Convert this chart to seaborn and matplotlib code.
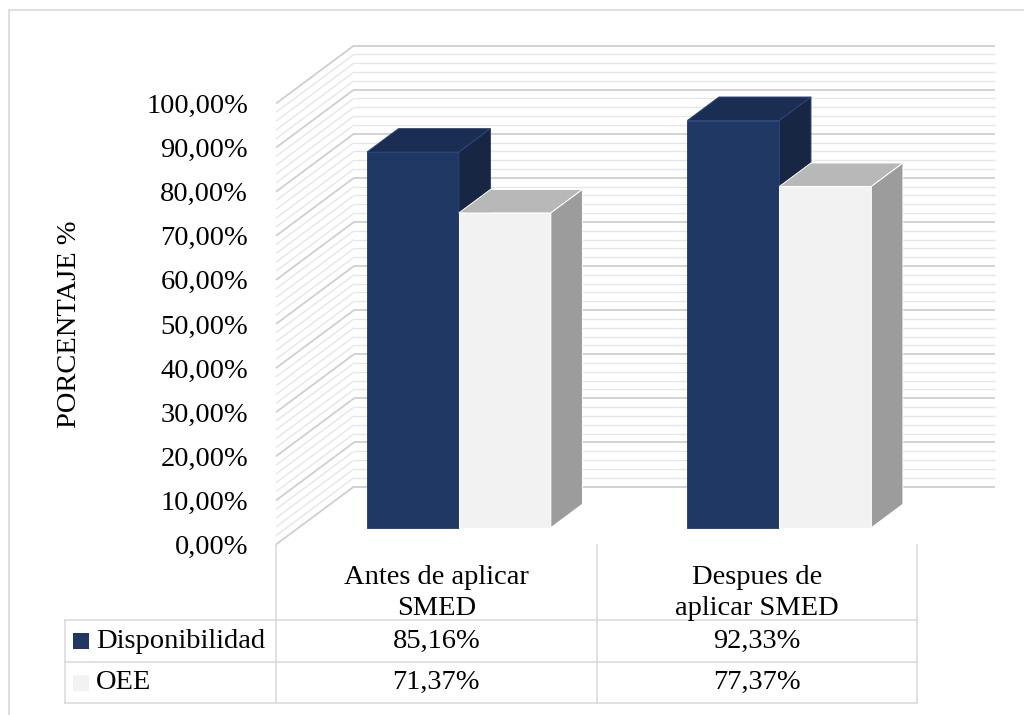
import numpy as np
import pandas as pd
import matplotlib
matplotlib.use("Agg")
import matplotlib.pyplot as plt
import matplotlib.transforms as mtransforms
from matplotlib.patches import Polygon, Rectangle
from matplotlib.lines import Line2D
import seaborn as sns

# ---- data -------------------------------------------------------------
categorias = ["Antes de aplicar\nSMED", "Despues de\naplicar SMED"]
series = ["Disponibilidad", "OEE"]
disponibilidad = [85.16, 92.33]
oee = [71.37, 77.37]
ticks_y = list(range(0, 101, 10))

df = pd.DataFrame({
    "categoria": categorias * 2,
    "serie": [series[0]] * len(categorias) + [series[1]] * len(categorias),
    "valor": disponibilidad + oee,
})

# ---- style ------------------------------------------------------------
sns.set_style("white")
plt.rcParams["font.family"] = ["Liberation Serif", "DejaVu Serif"]
FS = 20.5
TXT = "#000000"
GRID_MAJOR = "#cfcfcf"
GRID_MINOR = "#e6e6e6"
TABLE_LINE = "#d9d9d9"
FRONT = ["#1f3864", "#f2f2f2"]
TOP = ["#1a2e54", "#b8b8b8"]
SIDE = ["#162643", "#9c9c9c"]
EDGE = ["#2b4577", "#ffffff"]

def pct(v):
    return f"{v:.2f}%".replace(".", ",")

# ---- layout (pixels) --------------------------------------------------
W, H = 1024, 715
FRONT_L, FRONT_R = 276, 917
FRONT_TOP, FRONT_BOT = 103.5, 544.5
WALL_DEPTH = (78, 58)        # full depth of the 3-D box
BAR_FRONT = 0.29             # depth fraction where bars start
BAR_DEPTH = 0.405            # depth fraction occupied by bars

fig = plt.figure(figsize=(W / 100, H / 100), dpi=100)
px = mtransforms.Affine2D().scale(1 / W, -1 / H).translate(0, 1) + fig.transFigure


def fig_rect(l, t, r, b):
    return [l / W, 1 - b / H, (r - l) / W, (b - t) / H]


# front plane axis (tick labels, walls)
ax = fig.add_axes(fig_rect(FRONT_L, FRONT_TOP, FRONT_R, FRONT_BOT))
ax.set_xlim(-0.5, len(categorias) - 0.5)
ax.set_ylim(0, 100)
ax.set_facecolor("none")
for s in ax.spines.values():
    s.set_visible(False)
ax.set_xticks([])
ax.set_yticks(ticks_y)
ax.set_yticklabels([pct(t) for t in ticks_y], fontsize=FS, color=TXT)
ax.tick_params(axis="y", length=0, pad=20)

ux = (len(categorias)) / (FRONT_R - FRONT_L)
uy = 100 / (FRONT_BOT - FRONT_TOP)
wx, wy = WALL_DEPTH[0] * ux, WALL_DEPTH[1] * uy
x0, x1 = -0.5, len(categorias) - 0.5

# back wall and side wall gridlines
for v in np.arange(0, 100.1, 2):
    major = np.isclose(v % 10, 0)
    c = GRID_MAJOR if major else GRID_MINOR
    lw = 1.3 if major else 1.0
    ax.plot([x0 + wx, x1 + wx], [v + wy, v + wy], color=c, lw=lw,
            clip_on=False, zorder=1, solid_capstyle="butt")
    ax.plot([x0, x0 + wx], [v, v + wy], color=c, lw=lw,
            clip_on=False, zorder=1, solid_capstyle="butt")

# bar plane axis, shifted back into the box
ox, oy = BAR_FRONT * WALL_DEPTH[0], BAR_FRONT * WALL_DEPTH[1]
ax_bar = fig.add_axes(fig_rect(FRONT_L + ox, FRONT_TOP - oy, FRONT_R + ox, FRONT_BOT - oy))
sns.barplot(data=df, x="categoria", y="valor", hue="serie",
            order=categorias, hue_order=series, palette=FRONT,
            width=0.574, saturation=1, legend=False, linewidth=0, ax=ax_bar)
ax_bar.set_xlim(-0.5, len(categorias) - 0.5)
ax_bar.set_ylim(0, 100)
ax_bar.axis("off")
ax_bar.set_facecolor("none")

bx = BAR_DEPTH * WALL_DEPTH[0] * ux
by = BAR_DEPTH * WALL_DEPTH[1] * uy
for i, cont in enumerate(ax_bar.containers):
    z = 2 + i
    for p in cont:
        xl, w, h = p.get_x(), p.get_width(), p.get_height()
        xr = xl + w
        p.set_zorder(z)
        p.set_edgecolor(EDGE[i])
        p.set_linewidth(0.7)
        p.set_clip_on(False)
        top = Polygon([(xl, h), (xr, h), (xr + bx, h + by), (xl + bx, h + by)],
                      closed=True, facecolor=TOP[i], edgecolor=EDGE[i], lw=0.7,
                      zorder=z, clip_on=False)
        side = Polygon([(xr, 0), (xr + bx, by), (xr + bx, h + by), (xr, h)],
                       closed=True, facecolor=SIDE[i], edgecolor=EDGE[i], lw=0.7,
                       zorder=z, clip_on=False)
        ax_bar.add_patch(top)
        ax_bar.add_patch(side)

# ---- y label ----------------------------------------------------------
fig.text(70 / W, 1 - (FRONT_TOP + FRONT_BOT) / 2 / H, "PORCENTAJE %",
         rotation=90, ha="center", va="center", fontsize=FS, color=TXT)

# ---- data table -------------------------------------------------------
TAB_L = 65
ROW_Y = [620, 662, 703]
HEAD_TOP = 545
col_edges = [FRONT_L, (FRONT_L + FRONT_R) / 2, FRONT_R]
lkw = dict(color=TABLE_LINE, lw=1.1, transform=px, solid_capstyle="projecting")
for xe in col_edges:
    fig.add_artist(Line2D([xe, xe], [HEAD_TOP, ROW_Y[-1]], **lkw))
fig.add_artist(Line2D([TAB_L, TAB_L], [ROW_Y[0], ROW_Y[-1]], **lkw))
for ye in ROW_Y:
    fig.add_artist(Line2D([TAB_L, FRONT_R], [ye, ye], **lkw))

col_tr = mtransforms.blended_transform_factory(ax.transData, px)
for j, cat in enumerate(categorias):
    fig.text(j, 593, cat, transform=col_tr,
             ha="center", va="center", fontsize=FS, color=TXT, linespacing=1.28)

valores = [disponibilidad, oee]
for i, nombre in enumerate(series):
    yc = (ROW_Y[i] + ROW_Y[i + 1]) / 2
    fig.add_artist(Rectangle((73, yc - 8), 16, 16, transform=px,
                             facecolor=FRONT[i], edgecolor="none"))
    fig.text(96, yc, nombre, transform=px, ha="left", va="center",
             fontsize=FS, color=TXT)
    for j, v in enumerate(valores[i]):
        fig.text(j, yc, pct(v), transform=col_tr, ha="center", va="center",
                 fontsize=FS, color=TXT)

# ---- chart frame ------------------------------------------------------
fkw = dict(color=TABLE_LINE, lw=1.2, transform=px)
fig.add_artist(Line2D([8.5, 8.5], [9.5, H + 5], **fkw))
fig.add_artist(Line2D([8.5, W + 5], [9.5, 9.5], **fkw))

fig.savefig("out.png", dpi=100, facecolor="white")
